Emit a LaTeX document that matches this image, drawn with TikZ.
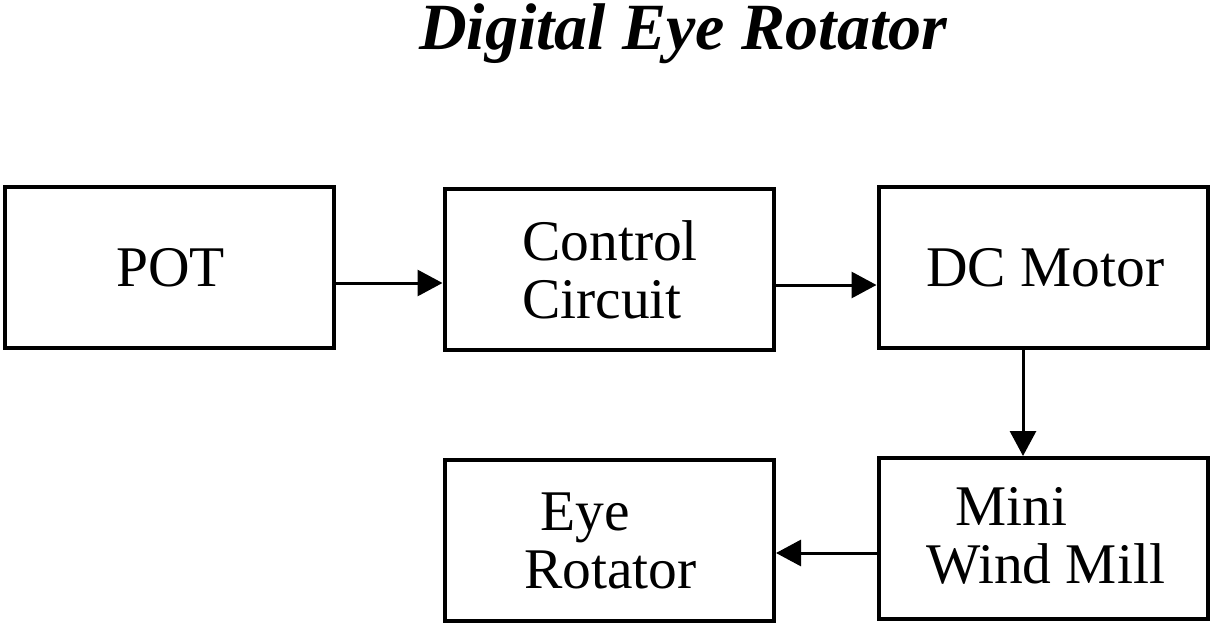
\documentclass[tikz,border=0pt]{standalone}
\usepackage{fontspec}
\setmainfont{Liberation Serif}
\usetikzlibrary{arrows.meta}
\begin{document}
\begin{tikzpicture}[x=1pt,y=-1pt,
  blk/.style={draw=black,line width=4pt,minimum width=329pt,minimum height=161pt,inner sep=0pt},
  lbl/.style={anchor=base west,inner sep=0pt,font=\fontsize{57.5}{58}\selectfont},
  arr/.style={line width=3pt,-{Triangle[length=25pt,width=26pt]}}]
\useasboundingbox (0,0) rectangle (1213,626);
\node[anchor=base,inner sep=0pt,font=\fontsize{66}{70}\selectfont\bfseries\itshape] (title) at (683,50) {Digital Eye Rotator};
\node[blk] (pot) at (169.5,267.5) {};
\node[blk] (ctrl) at (609,269.5) {};
\node[blk] (dc) at (1043,267.5) {};
\node[blk] (eye) at (609.5,540) {};
\node[blk] (mini) at (1043,538.5) {};
\node[lbl] (tpot) at (116,286) {POT};
\node[lbl] (tctrl1) at (522,260) {Control};
\node[lbl] (tctrl2) at (522,318) {Circuit};
\node[lbl] (tdc) at (926,286) {DC Motor};
\node[lbl] (teye1) at (540,530) {Eye};
\node[lbl] (teye2) at (524,588) {Rotator};
\node[lbl] (tmini1) at (955,525) {Mini};
\node[lbl] (tmini2) at (926,583) {Wind Mill};
\coordinate (a1) at (0,283);
\coordinate (a2) at (0,285);
\coordinate (a3) at (1023,0);
\coordinate (a4) at (0,553);
\draw[arr] (pot.east |- a1) -- (ctrl.west |- a1);
\draw[arr] (ctrl.east |- a2) -- (dc.west |- a2);
\draw[arr] (dc.south -| a3) -- (mini.north -| a3);
\draw[arr] (mini.west |- a4) -- (eye.east |- a4);
\end{tikzpicture}
\end{document}
